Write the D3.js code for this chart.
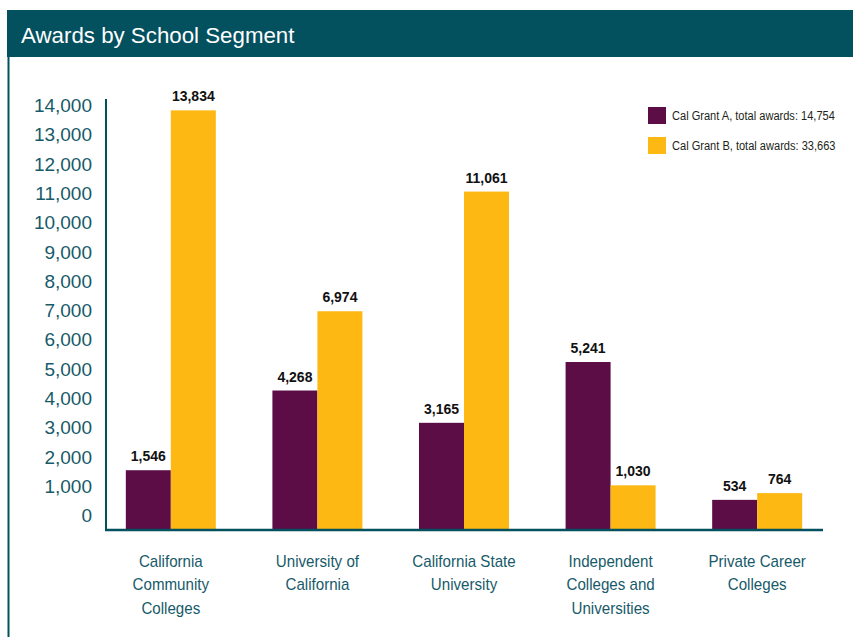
<!DOCTYPE html>
<html>
<head>
<meta charset="utf-8">
<script src="https://cdn.jsdelivr.net/npm/d3@7"></script>
<style>
  html, body { margin: 0; padding: 0; background: #ffffff; }
  svg { display: block; font-family: "Liberation Sans", Arial, sans-serif; }
</style>
</head>
<body>
<svg id="chart" width="853" height="637"></svg>
<script>
// ---- data ----
const title = "Awards by School Segment";
const categories = [
  "California\nCommunity\nColleges",
  "University of\nCalifornia",
  "California State\nUniversity",
  "Independent\nColleges and\nUniversities",
  "Private Career\nColleges"
];
const seriesNames = ["Cal Grant A, total awards: 14,754", "Cal Grant B, total awards: 33,663"];
const grantA = [1546, 4268, 3165, 5241, 534];
const grantB = [13834, 6974, 11061, 1030, 764];
const yTicks = [0, 1000, 2000, 3000, 4000, 5000, 6000, 7000, 8000, 9000, 10000, 11000, 12000, 13000, 14000];

// ---- styles ----
const teal = "#03505f";
const tealText = "#175a69";
const colors = ["#5c0d46", "#fdb813"];

const svg = d3.select("#chart");

// title bar
svg.append("rect").attr("x", 7).attr("y", 10).attr("width", 846).attr("height", 47).attr("fill", teal);
svg.append("text").attr("transform", "translate(21,43) scale(0.97,1)").attr("fill", "#ffffff")
  .attr("font-size", 23).text(title);
// left frame line
svg.append("line").attr("x1", 8.5).attr("x2", 8.5).attr("y1", 57).attr("y2", 637)
  .attr("stroke", teal).attr("stroke-width", 2);

// scales
const baseY = 530;
const y = d3.scaleLinear().domain([0, 14000]).range([515.5, 105.5]);
const x = d3.scalePoint().domain(categories).range([105, 823]).padding(0.449);
const xs = d3.scaleBand().domain([0, 1]).range([-45, 45]).padding(0);

// data rows
const rows = categories.map((c, i) => ({ cat: c, vals: [grantA[i], grantB[i]] }));

// bars
const groups = svg.append("g").selectAll("g").data(rows).join("g")
  .attr("transform", d => `translate(${x(d.cat)},0)`);
groups.selectAll("rect").data(d => d.vals.map((v, k) => ({ v, k }))).join("rect")
  .attr("x", d => xs(d.k))
  .attr("width", xs.bandwidth())
  .attr("y", d => y(d.v))
  .attr("height", d => baseY - y(d.v))
  .attr("fill", d => colors[d.k]);
groups.selectAll("text.val").data(d => d.vals.map((v, k) => ({ v, k }))).join("text")
  .attr("class", "val")
  .attr("x", d => xs(d.k) + xs.bandwidth() / 2)
  .attr("y", d => y(d.v) - 9)
  .attr("text-anchor", "middle")
  .attr("font-size", 14).attr("font-weight", "bold").attr("fill", "#111111")
  .text(d => d3.format(",")(d.v));

// y axis
const yAxis = d3.axisLeft(y).tickValues(yTicks).tickSize(0).tickPadding(14).tickFormat(d3.format(","));
const ag = svg.append("g").attr("transform", "translate(106,0)").call(yAxis);
ag.select(".domain").remove();
ag.selectAll("text").attr("font-size", 19).attr("fill", tealText)
  .attr("font-family", "'Liberation Sans', Arial, sans-serif");

// axis lines
svg.append("line").attr("x1", 106).attr("x2", 106).attr("y1", 99).attr("y2", 531)
  .attr("stroke", teal).attr("stroke-width", 2);
svg.append("line").attr("x1", 105).attr("x2", 823).attr("y1", baseY).attr("y2", baseY)
  .attr("stroke", teal).attr("stroke-width", 2.5);

// category labels
const sxCat = 0.89;
const catG = svg.append("g").selectAll("g").data(categories).join("g")
  .attr("transform", d => `translate(${x(d)},566.5) scale(${sxCat},1)`);
catG.selectAll("text").data(d => d.split("\n")).join("text")
  .attr("x", 0).attr("y", (d, i) => i * 24)
  .attr("text-anchor", "middle").attr("font-size", 17).attr("fill", tealText)
  .text(d => d);

// legend
const lg = svg.append("g").selectAll("g").data(seriesNames).join("g")
  .attr("transform", (d, i) => `translate(648,${107 + i * 30})`);
lg.append("rect").attr("width", 18).attr("height", 17).attr("fill", (d, i) => colors[i]);
lg.append("text").attr("transform", "translate(24,12.5) scale(0.82,1)")
  .attr("font-size", 13.5).attr("fill", "#231f20").text(d => d);
</script>
</body>
</html>
